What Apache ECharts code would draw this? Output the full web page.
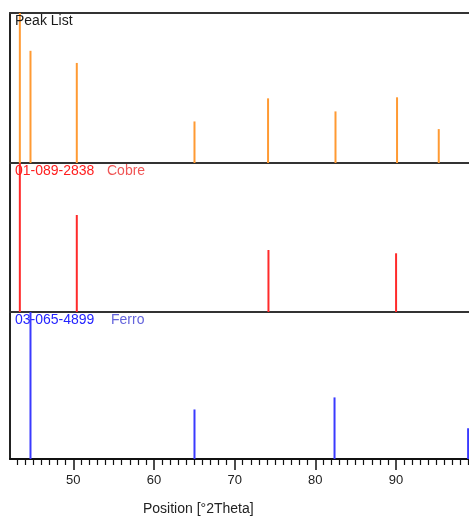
<!DOCTYPE html>
<html>
<head>
<meta charset="utf-8">
<script src="https://cdn.jsdelivr.net/npm/echarts@6/dist/echarts.min.js"></script>
<style>
html,body{margin:0;padding:0;background:#fff;}
#chart{width:469px;height:516px;}
</style>
</head>
<body>
<div id="chart"></div>
<script>
// Peak List (measured peaks)
const peakPos = [43.37, 44.69, 50.43, 65.02, 74.14, 82.50, 90.13, 95.30];
const peakInt = [100, 74.8, 66.7, 27.7, 43.1, 34.4, 43.8, 22.6];
// 01-089-2838 Cobre
const cobrePos = [43.37, 50.43, 74.19, 90.01];
const cobreInt = [100, 65.1, 41.6, 39.4];
// 03-065-4899 Ferro
const ferroPos = [44.69, 65.02, 82.38, 98.94];
const ferroInt = [100, 33.7, 41.9, 20.9];
// Axis ticks
const majorTicks = [50, 60, 70, 80, 90];
const minorTicks = [43,44,45,46,47,48,49,51,52,53,54,55,56,57,58,59,61,62,63,64,65,66,67,68,69,71,72,73,74,75,76,77,78,79,81,82,83,84,85,86,87,88,89,91,92,93,94,95,96,97,98,99];
const xMin = 42.15, xMax = 99.05;
const axisTitle = 'Position [°2Theta]';
const panelNames = [['Peak List', ''], ['01-089-2838', 'Cobre'], ['03-065-4899', 'Ferro']];

const FONT = '"Liberation Sans", Arial, sans-serif';
const pair = (p, v) => p.map((x, i) => [x, v[i]]);

const chart = echarts.init(document.getElementById('chart'), null, {renderer: 'canvas'});

const hiddenX = (gi, extra) => Object.assign({
  type: 'value', gridIndex: gi, min: xMin, max: xMax, position: 'bottom',
  axisLine: {show: true, onZero: false, lineStyle: {color: '#333', width: 2}},
  axisTick: {show: false}, axisLabel: {show: false}, splitLine: {show: false}
}, extra || {});

const yAx = gi => ({
  type: 'value', gridIndex: gi, min: 0, max: 100,
  axisLine: {show: true, onZero: false, lineStyle: {color: '#222', width: 2}},
  axisTick: {show: false}, axisLabel: {show: false}, splitLine: {show: false}
});

const option = {
  animation: false,
  backgroundColor: '#fff',
  textStyle: {fontFamily: FONT},
  title: [
    {text: panelNames[0][0], left: 15, top: 14, padding: 0, textStyle: {fontSize: 14, fontWeight: 'normal', color: '#1a1a1a', fontFamily: FONT}},
    {text: panelNames[1][0], left: 15, top: 164, padding: 0, textStyle: {fontSize: 14, fontWeight: 'normal', color: '#ff1e1e', fontFamily: FONT}},
    {text: panelNames[1][1], left: 107, top: 164, padding: 0, textStyle: {fontSize: 14, fontWeight: 'normal', color: '#f05656', fontFamily: FONT}},
    {text: panelNames[2][0], left: 15, top: 313, padding: 0, textStyle: {fontSize: 14, fontWeight: 'normal', color: '#2424ff', fontFamily: FONT}},
    {text: panelNames[2][1], left: 111, top: 313, padding: 0, textStyle: {fontSize: 14, fontWeight: 'normal', color: '#6464dc', fontFamily: FONT}},
    {text: axisTitle, left: 143, top: 502, padding: 0, textStyle: {fontSize: 14, fontWeight: 'normal', color: '#222', fontFamily: FONT}}
  ],
  grid: [
    {left: 10, right: 0, top: 13, height: 150},
    {left: 10, right: 0, top: 163, height: 149},
    {left: 10, right: 0, top: 312, height: 147}
  ],
  xAxis: [
    hiddenX(0),
    hiddenX(0, {position: 'top'}),
    hiddenX(1),
    {
      type: 'value', gridIndex: 2, min: xMin, max: xMax, position: 'bottom',
      axisLine: {show: true, onZero: false, lineStyle: {color: '#111', width: 2}},
      axisTick: {show: true, inside: false, customValues: majorTicks, length: 11, lineStyle: {color: '#111', width: 1.5}},
      axisLabel: {show: true, customValues: majorTicks, margin: 15, fontSize: 13, color: '#222', fontFamily: FONT},
      splitLine: {show: false}
    },
    {
      type: 'value', gridIndex: 2, min: xMin, max: xMax, position: 'bottom', offset: 0,
      axisLine: {show: false, onZero: false},
      axisTick: {show: true, inside: false, customValues: minorTicks, length: 6, lineStyle: {color: '#111', width: 1.2}},
      axisLabel: {show: false}, splitLine: {show: false}
    }
  ],
  yAxis: [yAx(0), yAx(1), yAx(2)],
  series: [
    {type: 'bar', xAxisIndex: 0, yAxisIndex: 0, barWidth: 2, data: pair(peakPos, peakInt), itemStyle: {color: '#ff9a33'}},
    {type: 'bar', xAxisIndex: 2, yAxisIndex: 1, barWidth: 2, data: pair(cobrePos, cobreInt), itemStyle: {color: '#ff2a2a'}},
    {type: 'bar', xAxisIndex: 3, yAxisIndex: 2, barWidth: 2, data: pair(ferroPos, ferroInt), itemStyle: {color: '#3a3aff'}}
  ]
};
chart.setOption(option);
</script>
</body>
</html>
